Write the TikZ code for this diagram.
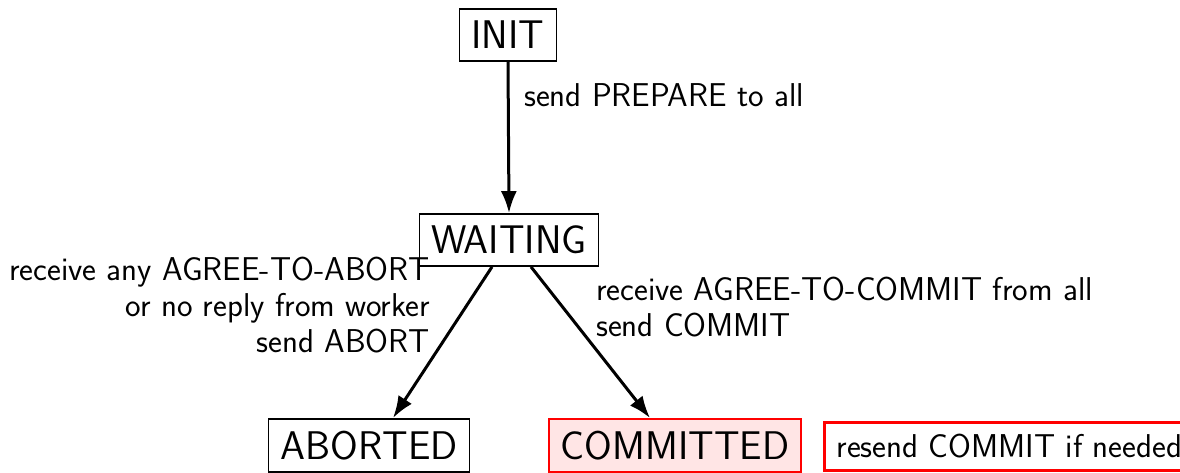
\documentclass[tikz,border=0pt]{standalone}
\usetikzlibrary{arrows.meta}
\begin{document}
\begin{tikzpicture}[x=1pt,y=1pt,
  state/.style={draw, line width=1.6pt, inner sep=12pt, font=\sffamily\fontsize{40}{44}\selectfont},
  lbl/.style={font=\sffamily\fontsize{33}{36}\selectfont, inner sep=0pt},
  conn/.style={line width=3pt, -{Latex[length=22pt,width=16pt]}}]
\useasboundingbox (0,0) rectangle (1180,-473);
\node[state] (init) at (508,-35) {INIT};
\node[state] (wait) at (509,-240) {WAITING};
\node[state, anchor=north] (abort) at (369,-418) {ABORTED};
\node[state, anchor=north, draw=red, fill=red!10] (commit) at (675,-418) {COMMITTED};
\node[draw=red, line width=3pt, inner sep=12pt, anchor=north west, font=\sffamily\fontsize{33}{36}\selectfont] (resend) at (823,-421) {resend COMMIT if needed};
\draw[conn] (init.south) -- (wait.north);
\draw[conn] (wait.south -| 492,0) -- (abort.north -| 393,0);
\draw[conn] (wait.south -| 531,0) -- (commit.north -| 650,0);
\node[lbl, anchor=west] (l1) at (524,-95) {send PREPARE to all};
\node[lbl, anchor=north east, align=right] (l2) at (430,-257) {receive any AGREE-TO-ABORT\\or no reply from worker\\send ABORT};
\node[lbl, anchor=north west, align=left] (l3) at (596,-277) {receive AGREE-TO-COMMIT from all\\send COMMIT};
\end{tikzpicture}
\end{document}
